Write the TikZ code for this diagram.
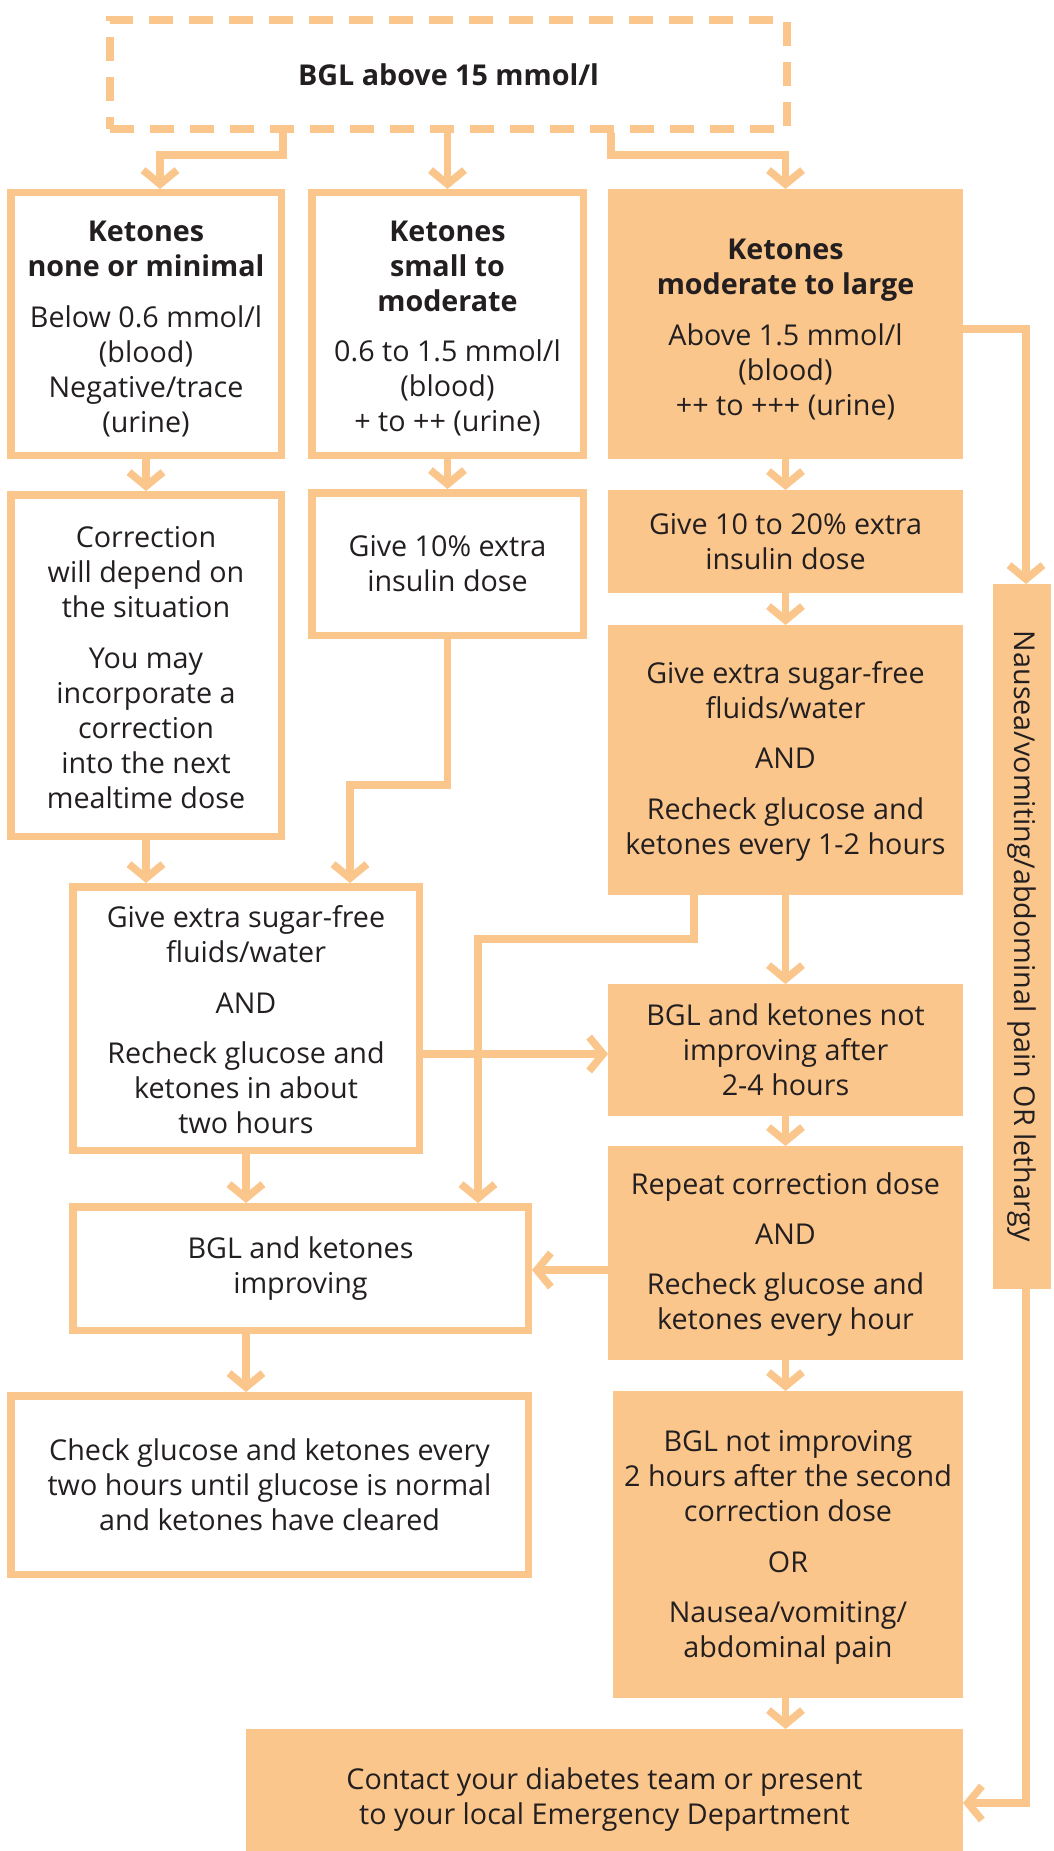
\documentclass[tikz,border=0pt]{standalone}
\usepackage{fontspec}
\setmainfont{Open Sans}
\usetikzlibrary{arrows.meta}
\definecolor{org}{HTML}{FBC68B}
\definecolor{txt}{HTML}{231F20}
% extra room above the first line, pushing a centred text block down
\newcommand\lowerby[1]{\rule{0pt}{\dimexpr 21pt+#1\relax}}
\tikzset{
  base/.style={align=center, text=txt, font=\fontsize{28.7}{35}\selectfont, inner sep=0pt, anchor=center},
  whitebox/.style={base, draw=org, line width=7.5pt, fill=white},
  fillbox/.style={base, fill=org, draw=none, outer sep=0pt},
  dashbox/.style={base, draw=org, line width=8pt, fill=white, dash pattern=on 24pt off 16pt},
  link/.style={draw=org, line width=7.5pt},
  arr/.style={link, -{Straight Barb[length=14pt, width=34pt, sharp]}},
}
\begin{document}
\begin{tikzpicture}[x=1pt, y=-1pt]
\clip (0,0) rectangle (1053,1851);
\fill[white] (0,0) rectangle (1053,1851);

% start
\node[dashbox, minimum width=677, minimum height=109] (T) at (448.5,74.5) {\textbf{BGL above 15 mmol/l}};

% ketone levels
\node[whitebox, minimum width=270.5, minimum height=262.5] (A) at (146,324)
  {\lowerby{10pt}\textbf{Ketones}\\\textbf{none or minimal}\\[16pt]Below 0.6 mmol/l\\(blood)\\Negative/trace\\(urine)};
\node[whitebox, minimum width=271.5, minimum height=262.5] (B) at (447.5,324)
  {\lowerby{8pt}\textbf{Ketones}\\\textbf{small to}\\\textbf{moderate}\\[15pt]0.6 to 1.5 mmol/l\\(blood)\\+ to ++ (urine)};
\node[fillbox, minimum width=355, minimum height=270] (C) at (785.5,324)
  {\lowerby{10pt}\textbf{Ketones}\\\textbf{moderate to large}\\[16pt]Above 1.5 mmol/l\\(blood)\\++ to +++ (urine)};

% first actions
\node[whitebox, minimum width=270.5, minimum height=341.5] (D) at (146,665.5)
  {\lowerby{4pt}Correction\\will depend on\\the situation\\[16pt]You may\\incorporate a\\correction\\into the next\\mealtime dose};
\node[whitebox, minimum width=271.5, minimum height=142.5] (E) at (447.5,564)
  {Give 10\% extra\\insulin dose};
\node[fillbox, minimum width=355, minimum height=103] (F) at (785.5,541.5)
  {Give 10 to 20\% extra\\insulin dose};
\node[fillbox, minimum width=355, minimum height=270] (G) at (785.5,760)
  {\lowerby{4pt}Give extra sugar-free\\fluids/water\\[15pt]AND\\[16pt]Recheck glucose and\\ketones every 1-2 hours};
\node[whitebox, minimum width=346.5, minimum height=263.5] (H) at (246,1018.5)
  {\lowerby{3pt}Give extra sugar-free\\fluids/water\\[16pt]AND\\[15pt]Recheck glucose and\\ketones in about\\two hours};

% follow-up
\node[fillbox, minimum width=355, minimum height=132] (I) at (785.5,1050)
  {BGL and ketones not\\improving after\\2-4 hours};
\node[whitebox, minimum width=455.5, minimum height=123.5] (J) at (300.5,1268.5)
  {BGL and ketones\\improving};
\node[fillbox, minimum width=355, minimum height=214] (K) at (785.5,1253)
  {\lowerby{3pt}Repeat correction dose\\[15pt]AND\\[15pt]Recheck glucose and\\ketones every hour};
\node[whitebox, minimum width=517.5, minimum height=178.5] (L) at (269.5,1485)
  {Check glucose and ketones every\\two hours until glucose is normal\\and ketones have cleared};
\node[fillbox, minimum width=350, minimum height=307] (M) at (788,1544.5)
  {\lowerby{5pt}BGL not improving\\2 hours after the second\\correction dose\\[16pt]OR\\[15pt]Nausea/vomiting/\\abdominal pain};
\node[fillbox, rotate=-90, minimum width=705, minimum height=58] (N) at (1022,936.5)
  {Nausea/vomiting/abdominal pain OR lethargy};
\node[fillbox, minimum width=717, minimum height=141] (P) at (604.5,1799.5)
  {Contact your diabetes team or present\\to your local Emergency Department};

% connectors
\draw[arr] (T.south -| 283,0) -- (283,155) -- (160,155) -- (A.north -| 160,0);
\draw[arr] (B.north |- T.south) -- (B.north);
\draw[arr] (T.south -| 611,0) -- (611,155) -- (C.north |- 0,155) -- (C.north);
\draw[arr] (C.east |- 0,329) -- (1026,329) -- (N.west -| 1026,0);
\draw[arr] (A.south) -- (D.north);
\draw[arr] (B.south) -- (E.north);
\draw[arr] (C.south) -- (F.north);
\draw[arr] (F.south) -- (G.north);
\draw[arr] (D.south) -- (H.north -| D.south);
\draw[arr] (E.south) -- (E.south |- 0,785) -- (350,785) -- (H.north -| 350,0);
\draw[arr] (G.south) -- (I.north);
\draw[arr] (G.south -| 694,0) -- (694,939) -- (478,939) -- (J.north -| 478,0);
\draw[arr] (H.east |- 0,1054) -- (I.west |- 0,1054);
\draw[arr] (H.south) -- (J.north -| H.south);
\draw[arr] (I.south) -- (K.north);
\draw[arr] (K.west |- 0,1270) -- (J.east |- 0,1270);
\draw[arr] (J.south -| H.south) -- (L.north -| H.south);
\draw[arr] (K.south) -- (M.north -| K.south);
\draw[arr] (M.south -| K.south) -- (P.north -| K.south);
\draw[arr] (N.east -| 1026,0) -- (1026,1803) -- (P.east |- 0,1803);
\end{tikzpicture}
\end{document}
